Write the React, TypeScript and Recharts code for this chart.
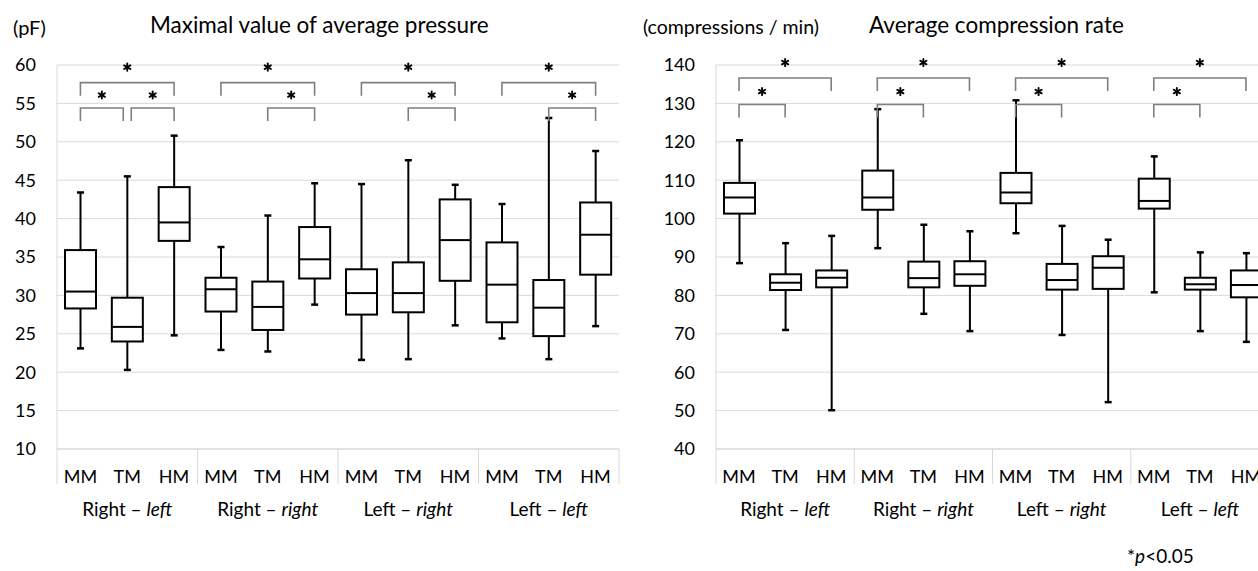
import {
	ComposedChart,
	Bar,
	XAxis,
	YAxis,
	CartesianGrid,
	ReferenceLine,
} from "recharts";

const FONT = "Lato, 'Open Sans', sans-serif";
const GRID = "#d9d9d9";
const BRACKET = "#7f7f7f";

// groups along the x axis: "Right – left", "Right – right", ...
const groupSide = ["Right", "Right", "Left", "Left"];
const groupHand = ["left", "right", "right", "left"];
const methods = ["MM", "TM", "HM"];

// Maximal value of average pressure (pF), order: group x method
const pressureMin = [23.1, 20.3, 24.8, 22.9, 22.7, 28.8, 21.6, 21.7, 26.1, 24.4, 21.7, 26.0];
const pressureQ1 = [28.3, 24.0, 37.1, 27.9, 25.5, 32.2, 27.5, 27.8, 31.9, 26.5, 24.7, 32.7];
const pressureMedian = [30.5, 25.9, 39.5, 30.8, 28.5, 34.7, 30.3, 30.3, 37.2, 31.4, 28.4, 37.9];
const pressureQ3 = [35.9, 29.7, 44.1, 32.3, 31.8, 38.9, 33.4, 34.3, 42.5, 36.9, 32.0, 42.1];
const pressureMax = [43.4, 45.5, 50.8, 36.3, 40.4, 44.6, 44.5, 47.6, 44.4, 41.9, 53.1, 48.8];
const pressureTicks = [10, 15, 20, 25, 30, 35, 40, 45, 50, 55, 60];

// Average compression rate (compressions / min)
const rateMin = [88.4, 71.0, 50.1, 92.3, 75.2, 70.7, 96.2, 69.7, 52.2, 80.8, 70.7, 67.9];
const rateQ1 = [101.3, 81.4, 82.1, 102.3, 82.1, 82.5, 104.0, 81.5, 81.7, 102.6, 81.5, 79.5];
const rateMedian = [105.5, 83.3, 84.6, 105.5, 84.5, 85.5, 106.8, 84.0, 87.2, 104.6, 82.9, 82.7];
const rateQ3 = [109.3, 85.5, 86.5, 112.5, 88.8, 88.9, 111.9, 88.2, 90.2, 110.4, 84.6, 86.5];
const rateMax = [120.4, 93.6, 95.5, 128.5, 98.4, 96.7, 130.8, 98.1, 94.5, 116.2, 91.2, 91.0];
const rateTicks = [40, 50, 60, 70, 80, 90, 100, 110, 120, 130, 140];

// significance brackets (p<0.05): [from category, to category, level]
const pressureBrackets: [number, number, string][] = [
	[0, 2, "top"], [0, 1, "low"], [1, 2, "low"],
	[3, 5, "top"], [4, 5, "low"],
	[6, 8, "top"], [7, 8, "low"],
	[9, 11, "top"], [10, 11, "low"],
];
const rateBrackets: [number, number, string][] = [
	[0, 2, "top"], [0, 1, "low"],
	[3, 5, "top"], [3, 4, "low"],
	[6, 8, "top"], [6, 7, "low"],
	[9, 11, "top"], [9, 10, "low"],
];
// height of the bracket bar, in data units
const pressureLevels: Record<string, number> = { top: 57.7, low: 54.4 };
const rateLevels: Record<string, number> = { top: 136.6, low: 129.7 };

const categories = groupSide.flatMap((_, g) => methods.map((m) => `${g}|${m}`));

const buildRows = (mn: number[], q1: number[], md: number[], q3: number[], mx: number[]) =>
	categories.map((cat, i) => ({
		cat,
		min: mn[i],
		q1: q1[i],
		median: md[i],
		q3: q3[i],
		max: mx[i],
		range: [mn[i], mx[i]],
	}));

const pressureRows = buildRows(pressureMin, pressureQ1, pressureMedian, pressureQ3, pressureMax);
const rateRows = buildRows(rateMin, rateQ1, rateMedian, rateQ3, rateMax);

const BoxShape = (props: any) => {
	const { x, y, width, height, payload } = props;
	if (!payload) return null;
	const top = Math.min(y, y + height);
	const h = Math.abs(height);
	const span = payload.max - payload.min;
	const py = (v: number) => top + (h * (payload.max - v)) / span;
	const cx = x + width / 2;
	const cap = 3.5;
	return (
		<g stroke="#000" strokeWidth={2}>
			<line x1={cx} x2={cx} y1={py(payload.max)} y2={py(payload.q3)} />
			<line x1={cx} x2={cx} y1={py(payload.q1)} y2={py(payload.min)} />
			<line x1={cx - cap} x2={cx + cap} y1={py(payload.max)} y2={py(payload.max)} strokeWidth={2.5} />
			<line x1={cx - cap} x2={cx + cap} y1={py(payload.min)} y2={py(payload.min)} strokeWidth={2.5} />
			<rect
				x={x}
				y={py(payload.q3)}
				width={width}
				height={py(payload.q1) - py(payload.q3)}
				fill="#fff"
			/>
			<line x1={x} x2={x + width} y1={py(payload.median)} y2={py(payload.median)} />
		</g>
	);
};

const CatTick = (props: any) => {
	const { x, y, payload, index, band } = props;
	const [g, m] = String(payload.value).split("|");
	const gi = Number(g);
	return (
		<g>
			<text x={x} y={y + 34} textAnchor="middle" fontSize={18} fill="#000" fontFamily={FONT}>
				{m}
			</text>
			{index % 3 === 0 && (
				<line x1={x - band / 2} x2={x - band / 2} y1={y} y2={y + 35} stroke={GRID} />
			)}
			{index === categories.length - 1 && (
				<line x1={x + band / 2} x2={x + band / 2} y1={y} y2={y + 35} stroke={GRID} />
			)}
			{index % 3 === 1 && (
				<text x={x} y={y + 67} textAnchor="middle" fontSize={19} fill="#000" fontFamily={FONT}>
					{groupSide[gi]} – <tspan fontStyle="italic">{groupHand[gi]}</tspan>
				</text>
			)}
		</g>
	);
};

// six-armed asterisk drawn with strokes
const Asterisk = ({ cx, cy }: { cx: number; cy: number }) => (
	<g stroke="#000" strokeWidth={1.9} strokeLinecap="round">
		{[90, 30, 150].map((a) => {
			const dx = 3.6 * Math.cos((a * Math.PI) / 180);
			const dy = 3.6 * Math.sin((a * Math.PI) / 180);
			return <line key={a} x1={cx - dx} y1={cy - dy} x2={cx + dx} y2={cy + dy} />;
		})}
	</g>
);

const Bracket = (props: any) => {
	const { x1, y1, x2, insetL, insetR, starGap } = props;
	const leg = 13;
	const a = x1 + insetL;
	const b = x2 - insetR;
	return (
		<g>
			<path
				d={`M${a},${y1 + leg} V${y1} H${b} V${y1 + leg}`}
				fill="none"
				stroke={BRACKET}
				strokeWidth={1.6}
			/>
			<Asterisk cx={(a + b) / 2} cy={y1 - starGap} />
		</g>
	);
};

interface PanelProps {
	rows: ReturnType<typeof buildRows>;
	domain: [number, number];
	ticks: number[];
	brackets: [number, number, string][];
	levels: Record<string, number>;
	yWidth: number;
	right: number;
}

function Panel({ rows, domain, ticks, brackets, levels, yWidth, right }: PanelProps) {
	const width = 640;
	const band = (width - yWidth - right) / rows.length;
	return (
		<ComposedChart
			width={width}
			height={571}
			data={rows}
			margin={{ top: 65, right, bottom: 62, left: 0 }}
		>
			<CartesianGrid vertical={false} stroke={GRID} />
			<XAxis
				dataKey="cat"
				interval={0}
				height={60}
				axisLine={{ stroke: GRID }}
				tickLine={false}
				tickSize={0}
				tickMargin={0}
				tick={(p: any) => <CatTick {...p} band={band} />}
			/>
			<YAxis
				domain={domain}
				ticks={ticks}
				width={yWidth}
				interval={0}
				axisLine={{ stroke: GRID }}
				tickLine={false}
				tickSize={0}
				tickMargin={21}
				tick={{ fill: "#000", fontSize: 18, fontFamily: FONT }}
			/>
			<Bar dataKey="range" barSize={31} shape={BoxShape} isAnimationActive={false} />
			{brackets.map((b, i) => {
				// brackets sharing an end on the same level are pulled apart a little
				const sharedL = brackets.some((o) => o !== b && o[2] === b[2] && o[1] === b[0]);
				const sharedR = brackets.some((o) => o !== b && o[2] === b[2] && o[0] === b[1]);
				return (
					<ReferenceLine
						key={i}
						ifOverflow="visible"
						segment={[
							{ x: categories[b[0]], y: levels[b[2]] },
							{ x: categories[b[1]], y: levels[b[2]] },
						]}
						shape={(p: any) => (
							<Bracket
								{...p}
								insetL={sharedL ? 4 : 0}
								insetR={sharedR ? 4 : 0}
								starGap={b[2] === "top" ? 15.5 : 13}
							/>
						)}
					/>
				);
			})}
		</ComposedChart>
	);
}

const textStyle = {
	position: "absolute" as const,
	fontFamily: FONT,
	color: "#000",
	whiteSpace: "nowrap" as const,
	lineHeight: 1,
};

export default function App() {
	return (
		<div
			style={{
				position: "fixed",
				top: 0,
				left: 0,
				width: 1258,
				height: 571,
				overflow: "hidden",
				background: "#fff",
			}}
		>
			<div style={{ position: "absolute", left: 0, top: 0 }}>
				<Panel
					rows={pressureRows}
					domain={[10, 60]}
					ticks={pressureTicks}
					brackets={pressureBrackets}
					levels={pressureLevels}
					yWidth={57}
					right={21}
				/>
			</div>
			<div style={{ position: "absolute", left: 640, top: 0 }}>
				<Panel
					rows={rateRows}
					domain={[40, 140]}
					ticks={rateTicks}
					brackets={rateBrackets}
					levels={rateLevels}
					yWidth={76}
					right={11}
				/>
			</div>
			<div style={{ ...textStyle, left: 13, top: 17, fontSize: 20 }}>(pF)</div>
			<div style={{ ...textStyle, left: 150, top: 14, fontSize: 22.5 }}>
				Maximal value of average pressure
			</div>
			<div style={{ ...textStyle, left: 643, top: 17, fontSize: 19.5 }}>(compressions / min)</div>
			<div style={{ ...textStyle, left: 869, top: 14, fontSize: 22.5 }}>Average compression rate</div>
			<div style={{ ...textStyle, left: 1127, top: 546, fontSize: 19 }}>
				*<i>p</i>&lt;0.05
			</div>
		</div>
	);
}
